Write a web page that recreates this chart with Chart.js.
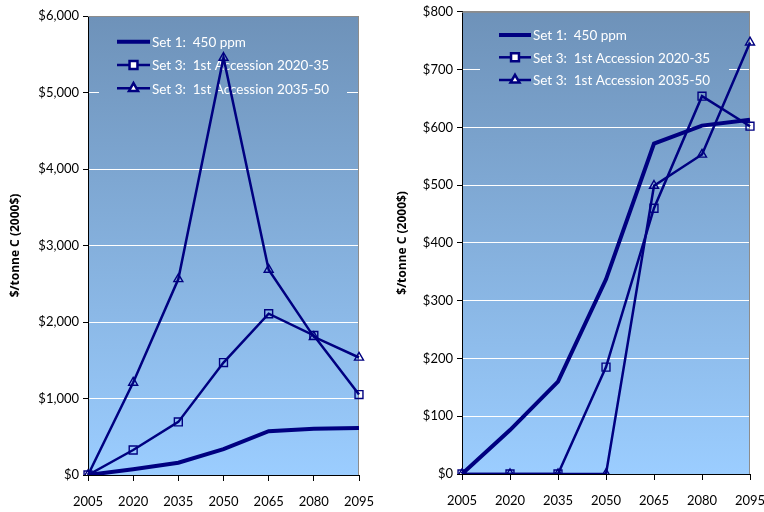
<!DOCTYPE html>
<html>
<head>
<meta charset="utf-8">
<script src="https://cdn.jsdelivr.net/npm/chart.js@4/dist/chart.umd.min.js"></script>
<style>
  html, body { margin:0; padding:0; background:#fff; overflow:hidden; }
  body { width:764px; height:512px; position:relative; }
  .box { position:absolute; top:0; height:512px; width:380px; }
  #leftBox { left:0; }
  #rightBox { left:384px; }
</style>
</head>
<body>
<div class="box" id="leftBox"><canvas id="leftChart"></canvas></div>
<div class="box" id="rightBox"><canvas id="rightChart"></canvas></div>
<script>
const years = ["2005", "2020", "2035", "2050", "2065", "2080", "2095"];

// Set 1: 450 ppm (same path on both panels)
const set1 = [0, 76, 160, 337, 572, 603, 613];

// left panel
const leftEarly = [0, 327, 694, 1470, 2108, 1824, 1051];
const leftLate  = [0, 1208, 2562, 5455, 2684, 1806, 1536];

// right panel
const rightEarly = [0, 0, 0, 185, 460, 654, 602];
const rightLate  = [0, 0, 0, 0, 499, 553, 747];

const seriesNames = ["Set 1:  450 ppm", "Set 3:  1st Accession 2020-35", "Set 3:  1st Accession 2035-50"];
const yTitle = "$/tonne C (2000$)";

const NAVY = "#000080";
const NO_ANIM = { animation: false, responsiveAnimationDuration: 0 };

function money(v){
  return "$" + Number(v).toLocaleString("en-US");
}

function plotGradient(chart){
  const a = chart.chartArea;
  const g = chart.ctx.createLinearGradient(0, a.top, 0, a.bottom);
  g.addColorStop(0, "#6e92b9");
  g.addColorStop(1, "#9bcdff");
  return g;
}

// background of plot + grey frame on top/right
const plotBg = {
  id: "plotBg",
  beforeDraw(chart){
    const {ctx, chartArea:a} = chart;
    ctx.save();
    ctx.fillStyle = plotGradient(chart);
    ctx.fillRect(a.left, a.top, a.right - a.left, a.bottom - a.top);
    ctx.restore();
  },
  beforeDatasetsDraw(chart){
    const {ctx, chartArea:a} = chart;
    ctx.save();
    ctx.strokeStyle = "#8c8c8c";
    ctx.lineWidth = 1;
    ctx.beginPath();
    ctx.moveTo(a.left, a.top + 0.5);
    ctx.lineTo(a.right - 0.5, a.top + 0.5);
    ctx.lineTo(a.right - 0.5, a.bottom);
    ctx.stroke();
    ctx.restore();
  }
};

// legend sits inside the plot, under the lines
const innerLegend = {
  id: "innerLegend",
  beforeDatasetsDraw(chart, args, opts){
    const ctx = chart.ctx;
    const b = opts.box;
    ctx.save();
    ctx.fillStyle = plotGradient(chart);
    ctx.fillRect(b.x, b.y, b.w, b.h);
    ctx.font = "13.5px Lato";
    ctx.textBaseline = "middle";
    chart.data.datasets.forEach((ds, i)=>{
      const y = opts.rowY[i];
      ctx.strokeStyle = NAVY;
      ctx.lineWidth = ds.borderWidth;
      ctx.beginPath();
      ctx.moveTo(opts.x0, y);
      ctx.lineTo(opts.x1, y);
      ctx.stroke();
      if (ds.pointRadius > 0){
        Chart.helpers.drawPoint(ctx, {
          pointStyle: ds.pointStyle, rotation: 0,
          radius: ds.pointRadius, borderWidth: ds.pointBorderWidth
        }, (opts.x0 + opts.x1) / 2, y);
      }
      ctx.fillStyle = "#ffffff";
      ctx.fillText(ds.label, opts.x1 + 2, y + 1);
    });
    ctx.restore();
  }
};

function makeSets(a, b){
  return [
    { label: seriesNames[0], data: set1, borderColor: NAVY, borderWidth: 4,
      pointRadius: 0, tension: 0 },
    { label: seriesNames[1], data: a, borderColor: NAVY, borderWidth: 2.5,
      pointStyle: "rect", pointRadius: 5.6, pointBorderWidth: 1.4,
      pointBackgroundColor: "rgba(0,0,0,0)", pointBorderColor: NAVY, tension: 0 },
    { label: seriesNames[2], data: b, borderColor: NAVY, borderWidth: 2.5,
      pointStyle: "triangle", pointRadius: 5.2, pointBorderWidth: 1.4,
      pointBackgroundColor: "rgba(0,0,0,0)", pointBorderColor: NAVY, tension: 0 }
  ];
}

function drawPanel(id, sets, cfg){
  const ctx = document.getElementById(id).getContext("2d");
  return new Chart(ctx, {
    type: "line",
    data: { labels: years, datasets: sets },
    plugins: [plotBg, innerLegend],
    options: {
      ...NO_ANIM,
      responsive: true,
      maintainAspectRatio: false,
      layout: { padding: { top: cfg.top, right: cfg.right, left: 0, bottom: 0 } },
      plugins: {
        legend: { display: false },
        tooltip: { enabled: false },
        innerLegend: cfg.legend
      },
      scales: {
        x: {
          offset: false,
          grid: { drawOnChartArea: false, tickColor: "#000", tickLength: 6 },
          border: { color: "#000", width: 1 },
          ticks: { color: "#000", font: { family: "Lato", size: 13 }, padding: 13,
                   maxRotation: 0, autoSkip: false },
          afterFit(s){
            s.height = cfg.xh;
            // let the end labels hang past the plot, like the original
            s.paddingLeft = 0;
            s.paddingRight = 0;
          }
        },
        y: {
          min: 0, max: cfg.max,
          grid: {
            color: c => (c.tick.value === 0 ? "rgba(0,0,0,0)" : (c.tick.value === cfg.max ? "#8c8c8c" : "#ffffff")),
            tickColor: "#000", tickLength: 5
          },
          border: { color: "#000", width: 1 },
          ticks: { stepSize: cfg.step, color: "#000", font: { family: "Lato", size: 13 },
                   padding: 4, callback: v => money(v) },
          title: { display: true, text: yTitle, color: "#000",
                   font: { family: "Open Sans", size: 12, weight: "bold" },
                   padding: { top: cfg.titlePad, bottom: 0 } },
          afterFit(s){ s.width = cfg.yw; }
        }
      }
    }
  });
}

drawPanel("leftChart", makeSets(leftEarly, leftLate), {
  max: 6000, step: 1000, top: 16, right: 21, xh: 37, yw: 88, titlePad: 8,
  legend: { box: { x: 99, y: 22, w: 248, h: 78 }, rowY: [41.7, 65, 88.3], x0: 117, x1: 150 }
});

drawPanel("rightChart", makeSets(rightEarly, rightLate), {
  max: 800, step: 100, top: 9, right: 14, xh: 38, yw: 78, titlePad: 11,
  legend: { box: { x: 96, y: 16, w: 249, h: 76 }, rowY: [35, 57.3, 80], x0: 115, x1: 147 }
});
</script>
</body>
</html>
